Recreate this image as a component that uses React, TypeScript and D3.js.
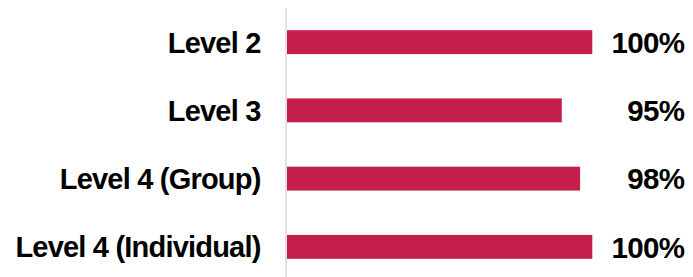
import React from "react";
import * as d3 from "d3";

const categories = ["Level 2", "Level 3", "Level 4 (Group)", "Level 4 (Individual)"];
const values = [100, 95, 98, 100];
const valueLabels = ["100%", "95%", "98%", "100%"];

const W = 693;
const H = 277;
const BAR_COLOR = "#C41F4B";
const FONT = "'Liberation Sans', Arial, sans-serif";

export default function App() {
  const x = d3.scaleLinear().domain([50, 100]).range([287, 592.3]);
  const y = d3
    .scaleBand<string>()
    .domain(categories)
    .range([8, 281])
    .paddingInner(0.65)
    .paddingOuter(0.325);
  const bw = y.bandwidth();

  return (
    <div style={{ position: "fixed", left: 0, top: 0 }}>
      <svg width={W} height={H} style={{ display: "block", background: "#fff" }}>
        <line x1={286} x2={286} y1={8} y2={H} stroke="#d9d9d9" strokeWidth={1.5} />
        {categories.map((c, i) => {
          const yc = (y(c) as number) + bw / 2;
          return (
            <g key={c}>
              <rect
                x={x(50)}
                y={y(c)}
                width={x(values[i]) - x(50)}
                height={bw}
                fill={BAR_COLOR}
              />
              <text
                x={260.5}
                y={yc + 10.4}
                textAnchor="end"
                fontFamily={FONT}
                fontWeight="bold"
                fontSize={29}
                letterSpacing={-0.8}
                fill="#000"
              >
                {c}
              </text>
              <text
                x={684.5}
                y={yc + 10.8}
                textAnchor="end"
                fontFamily={FONT}
                fontWeight="bold"
                fontSize={29.5}
                letterSpacing={-0.6}
                fill="#000"
              >
                {valueLabels[i]}
              </text>
            </g>
          );
        })}
      </svg>
    </div>
  );
}
